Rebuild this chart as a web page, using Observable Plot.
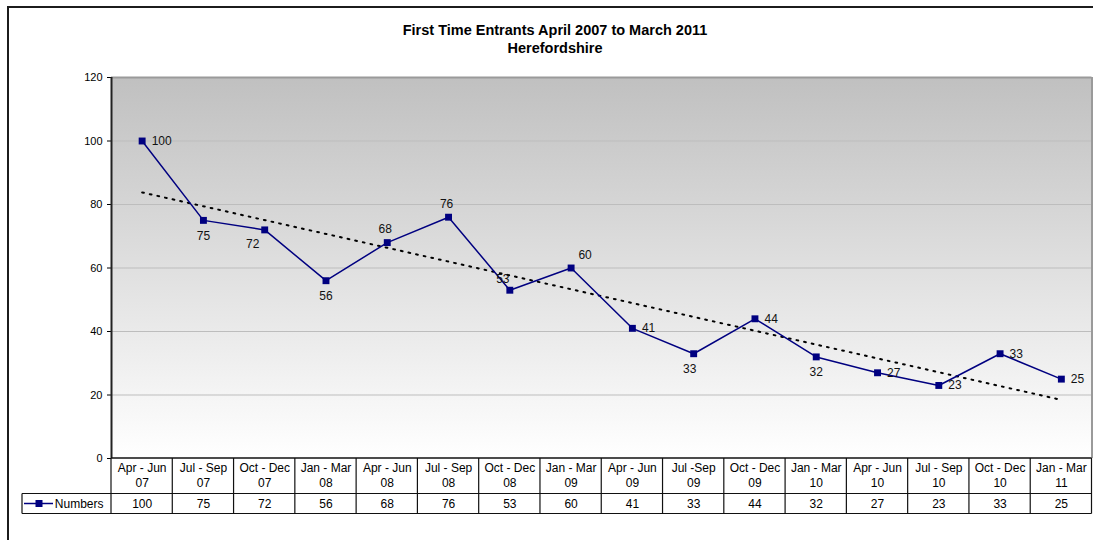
<!DOCTYPE html>
<html><head><meta charset="utf-8">
<script src="https://cdn.jsdelivr.net/npm/d3@7"></script>
<script src="https://cdn.jsdelivr.net/npm/@observablehq/plot@0.6"></script>
<style>
body{margin:0;background:#fff;font-family:"Liberation Sans",Arial,sans-serif;}
#wrap{position:relative;width:1093px;height:540px;overflow:hidden;}
#frame{position:absolute;left:7px;top:6px;width:1200px;height:600px;border-left:2px solid #1c1c1c;border-top:2px solid #1c1c1c;}
#title{position:absolute;left:0;top:21px;width:1110px;text-align:center;font-weight:bold;font-size:14.5px;line-height:18px;color:#000;}
#chart{position:absolute;left:0;top:67px;}
</style></head>
<body>
<div id="wrap">
  <div id="frame"></div>
  <div id="title">First Time Entrants April 2007 to March 2011<br>Herefordshire</div>
  <div id="chart"></div>
</div>
<script>
const periods = ["Apr - Jun","Jul - Sep","Oct - Dec","Jan - Mar","Apr - Jun","Jul - Sep","Oct - Dec","Jan - Mar",
                 "Apr - Jun","Jul -Sep","Oct - Dec","Jan - Mar","Apr - Jun","Jul - Sep","Oct - Dec","Jan - Mar"];
const years = ["07","07","07","08","08","08","08","09","09","09","09","10","10","10","10","11"];
const numbers = [100,75,72,56,68,76,53,60,41,33,44,32,27,23,33,25];
const yTicks = [0,20,40,60,80,100,120];
const gridTicks = [20,40,60,80,100];
const seriesName = "Numbers";
// label placement (layout only)
const labelPlacement = ["right","below","belowLeft","below","above","above","aboveLeft","aboveRight",
                        "right","belowLeftSmall","right","below","right","right","right","right"];
const placements = {
  right:{dx:9.5,dy:0,anchor:"start"},
  below:{dx:0,dy:15.5,anchor:"middle"},
  belowLeft:{dx:-12,dy:14,anchor:"middle"},
  belowLeftSmall:{dx:-4,dy:15,anchor:"middle"},
  above:{dx:-2,dy:-13.5,anchor:"middle"},
  aboveLeft:{dx:-7,dy:-11,anchor:"middle"},
  aboveRight:{dx:14,dy:-13,anchor:"middle"}
};

const navy = "#000080";
const data = numbers.map((v,i)=>({i, v, period: periods[i], year: years[i], place: labelPlacement[i]}));

const labelMarks = Object.entries(placements).map(([k,p]) =>
  Plot.text(data.filter(d=>d.place===k), {x:"i", y:"v", text:d=>String(d.v), dx:p.dx, dy:p.dy, textAnchor:p.anchor, fill:"#111", fontSize:12}));

const plot = Plot.plot({
  width:1093, height:473,
  marginLeft:111, marginRight:1.5, marginTop:10, marginBottom:82,
  style:{fontFamily:"'Liberation Sans', Arial, sans-serif", fontSize:"12px", color:"#000", background:"transparent", overflow:"visible"},
  x:{domain:[-0.5,15.5], axis:null},
  y:{domain:[0,120], axis:null},
  marks:[
    Plot.gridY(gridTicks, {stroke:"#bdbdbd", strokeOpacity:1}),
    Plot.ruleY([120], {stroke:"#9a9a9a", strokeWidth:2}),
    Plot.ruleX([15.5], {stroke:"#9a9a9a", strokeWidth:2}),
    Plot.axisY({ticks:yTicks, tickSize:4, tickPadding:5, fontSize:11, label:null, tickFormat:d=>String(d)}),
    Plot.ruleX([-0.5], {stroke:"#222", strokeWidth:2}),
    Plot.linearRegressionY(data, {x:"i", y:"v", ci:0, stroke:"#000", strokeWidth:2, strokeDasharray:"1.8,6"}),
    Plot.line(data, {x:"i", y:"v", stroke:navy, strokeWidth:1.5}),
    Plot.dot(data, {x:"i", y:"v", symbol:"square", r:3.9, fill:navy, stroke:"none"}),
    ...labelMarks,
    Plot.text(data, {x:"i", y:()=>0, text:d=>d.period+"\n"+d.year, lineAnchor:"top", dy:2.5, lineHeight:1.25, fill:"#000", fontSize:12}),
    Plot.text(data, {x:"i", y:()=>0, text:d=>String(d.v), dy:45.5, fill:"#000", fontSize:12}),
    Plot.text([seriesName], {x:()=>-0.5, y:()=>0, text:d=>d, dx:-8, dy:45.5, textAnchor:"end", fill:"#000", fontSize:12})
  ]
});

document.getElementById("chart").appendChild(plot);

// Background gradient and data table grid drawn with the plot's own scales
const xs = plot.scale("x"), ys = plot.scale("y");
const X = v => xs.apply(v), Y = v => ys.apply(v);
const svg = d3.select(plot);
const defs = svg.insert("defs", "g");
const grad = defs.append("linearGradient").attr("id","bgGrad").attr("x1",0).attr("y1",0).attr("x2",0).attr("y2",1);
grad.append("stop").attr("offset","0%").attr("stop-color","#c0c0c0");
grad.append("stop").attr("offset","100%").attr("stop-color","#ffffff");
svg.insert("rect", "g")
  .attr("x", X(-0.5)).attr("y", Y(120))
  .attr("width", X(15.5)-X(-0.5)).attr("height", Y(0)-Y(120))
  .attr("fill","url(#bgGrad)");

const y0 = Y(0), yRow = y0 + 35.5, yBot = y0 + 55.5, xLeg = 22;
const g = svg.append("g").attr("stroke","#111").attr("stroke-width",1.2).attr("fill","none");
g.append("line").attr("x1",X(-0.5)).attr("x2",X(15.5)).attr("y1",y0).attr("y2",y0).attr("stroke-width",1.6);
g.append("line").attr("x1",xLeg).attr("x2",X(15.5)).attr("y1",yRow).attr("y2",yRow);
g.append("line").attr("x1",xLeg).attr("x2",X(15.5)).attr("y1",yBot).attr("y2",yBot);
d3.range(17).forEach(k => {
  g.append("line").attr("x1",X(k-0.5)).attr("x2",X(k-0.5)).attr("y1",y0).attr("y2",yBot);
});
g.append("line").attr("x1",xLeg).attr("x2",xLeg).attr("y1",yRow).attr("y2",yBot);
// legend key
const yMid = (yRow + yBot)/2;
svg.append("line").attr("x1",24).attr("x2",53).attr("y1",yMid).attr("y2",yMid).attr("stroke",navy).attr("stroke-width",1.5);
svg.append("rect").attr("x",39-3.5).attr("y",yMid-3.5).attr("width",7).attr("height",7).attr("fill",navy);
</script>
</body></html>
